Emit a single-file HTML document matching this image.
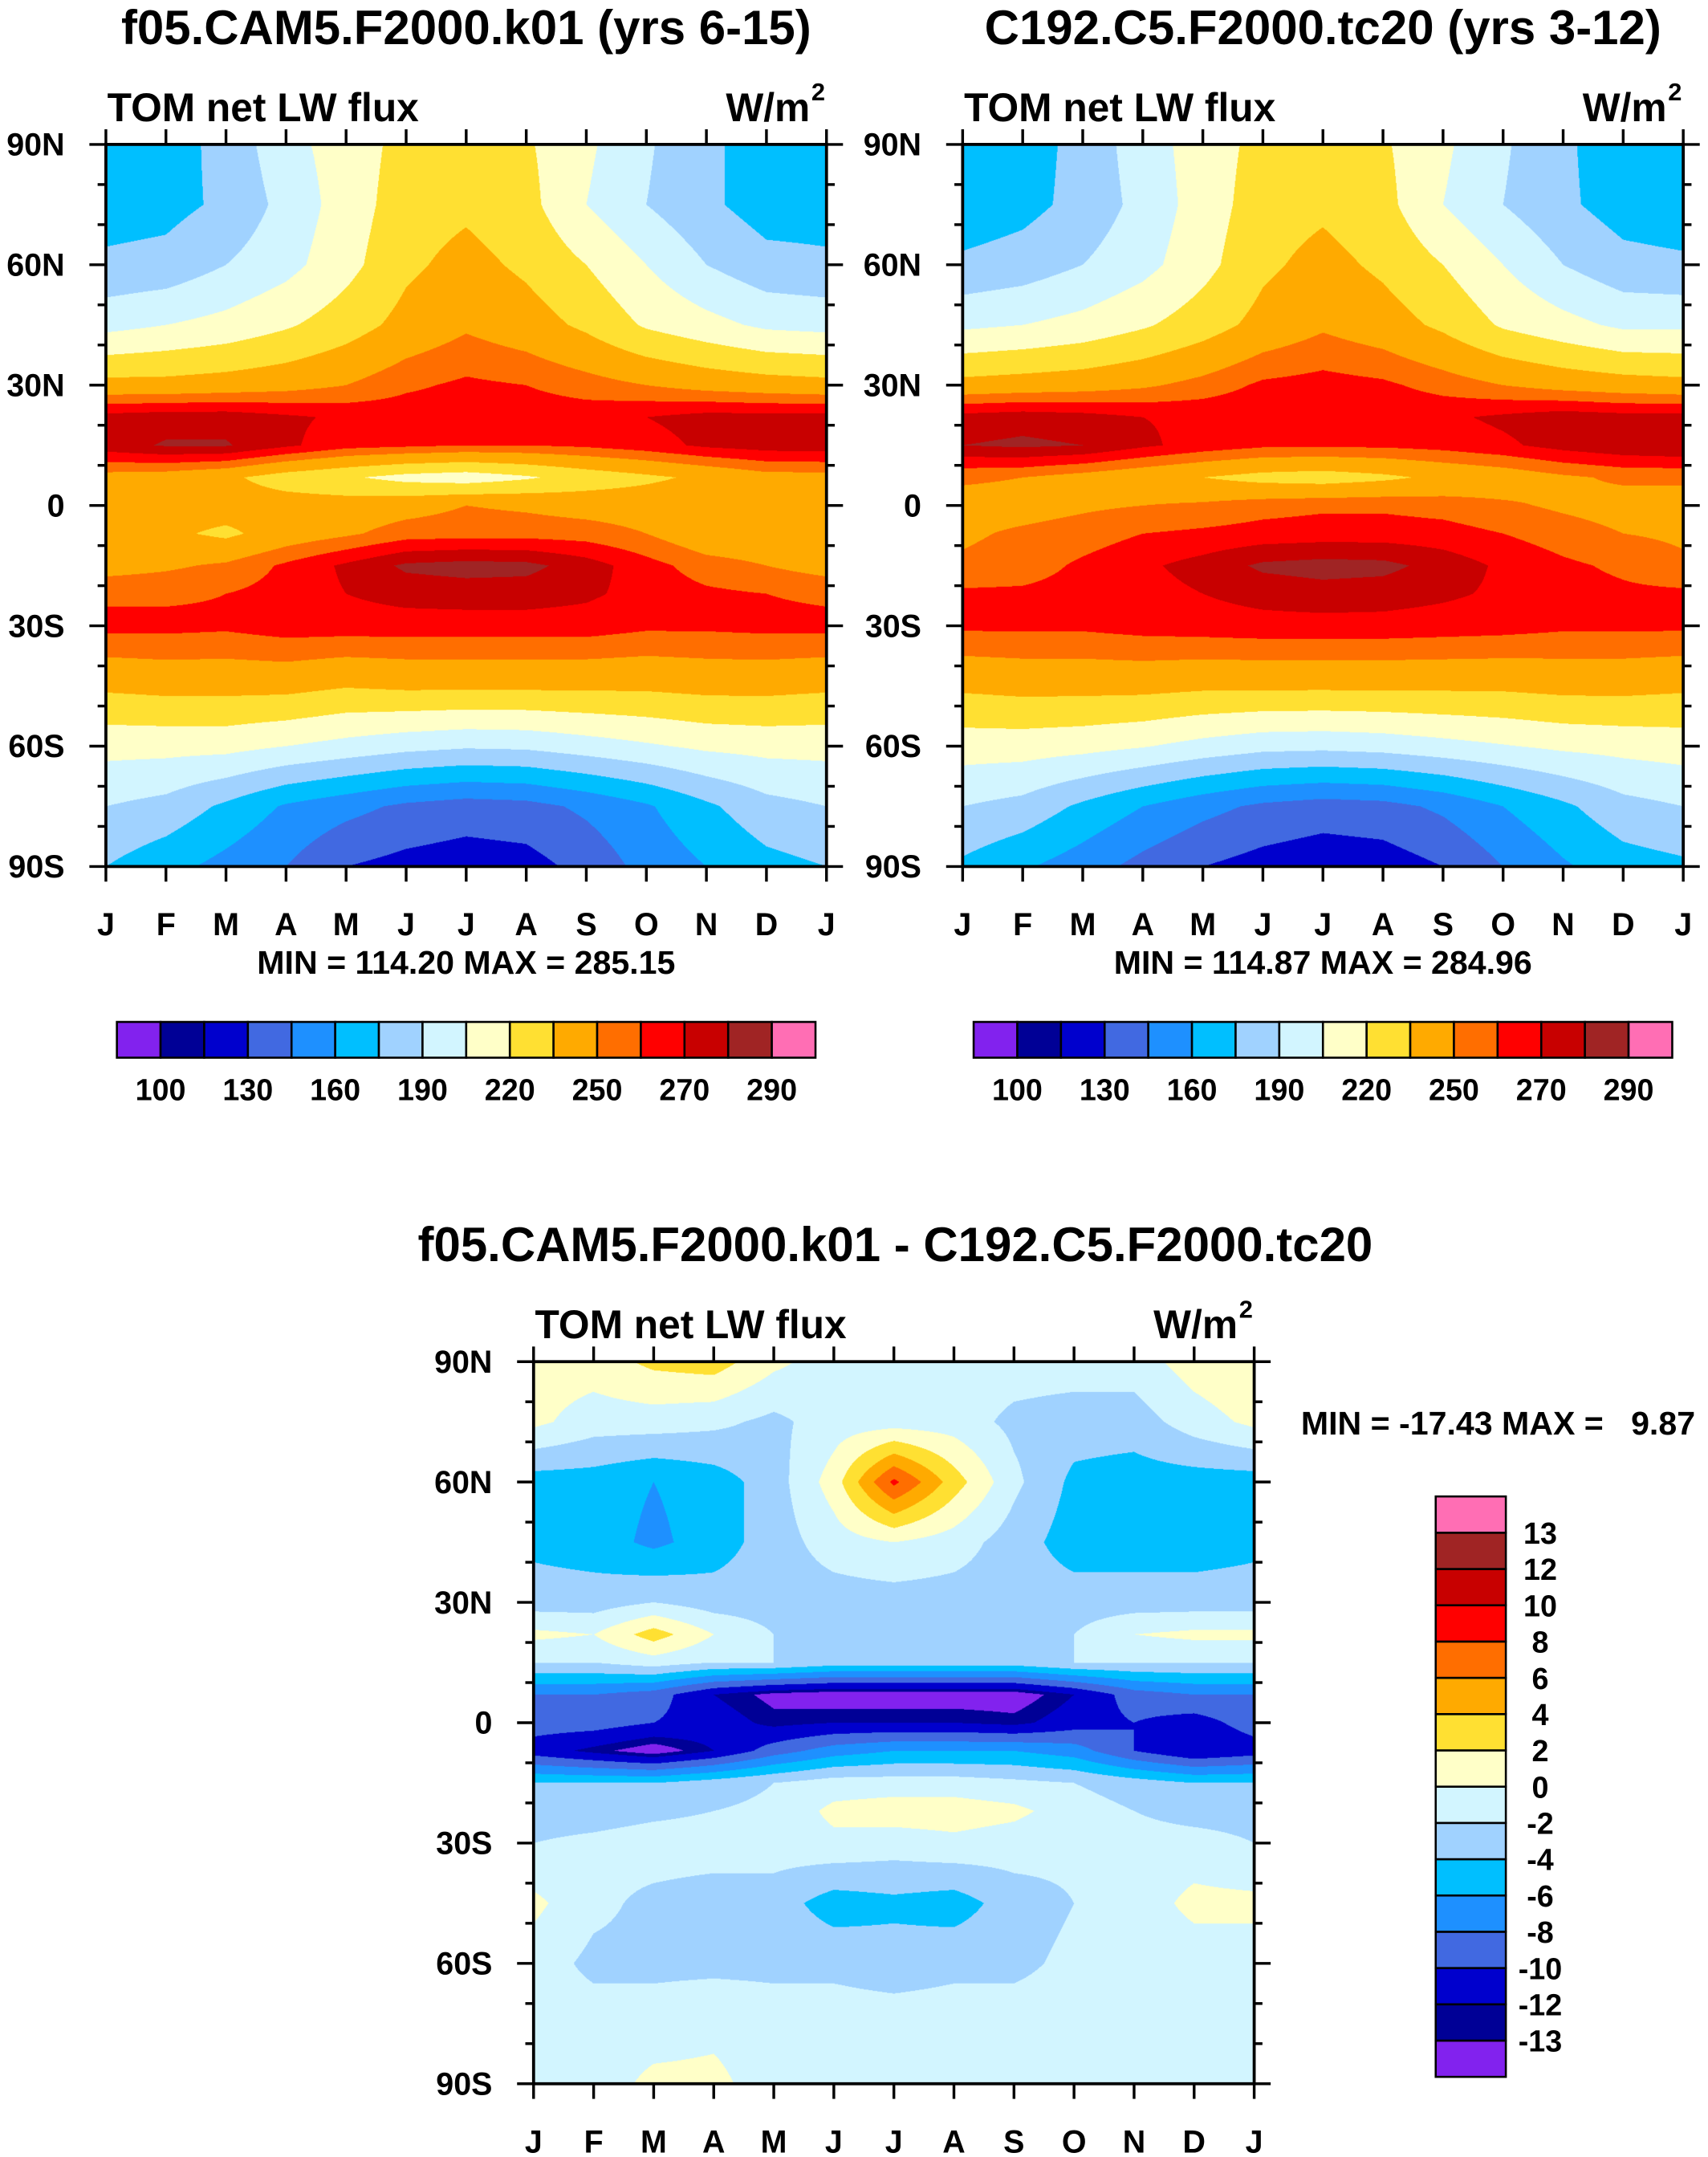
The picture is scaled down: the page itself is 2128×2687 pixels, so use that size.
<!DOCTYPE html>
<html><head><meta charset="utf-8">
<style>
html,body{margin:0;padding:0;background:#fff;}
#wrap{position:absolute;left:0;top:0;width:1242px;height:1568px;transform:scale(1.713365);transform-origin:0 0;font-family:"Liberation Sans",sans-serif;font-weight:bold;color:#000;}
canvas{position:absolute;}
svg{position:absolute;left:0;top:0;}
text{white-space:pre;}
</style></head><body>
<div id="wrap">
<canvas id="c1"></canvas>
<canvas id="c2"></canvas>
<canvas id="c3"></canvas>
<svg id="ov" width="1242" height="1568" viewBox="0 0 1242 1568"></svg>
</div>
<script>
// ---- data ----
const months = ["J","F","M","A","M","J","J","A","S","O","N","D","J"];
const latTicks = ["90N","60N","30N","0","30S","60S","90S"];
const lats = [90,75,60,45,30,22,15,7,0,-7,-15,-22,-30,-45,-60,-75,-90];
const levelsAbs = [100,115,130,145,160,175,190,205,220,235,250,260,270,280,290];
const absLabels = ["100","130","160","190","220","250","270","290"];
const levelsDiff = [-13,-12,-10,-8,-6,-4,-2,0,2,4,6,8,10,12,13];
const colors = ["#8222EE","#000096","#0000CD","#4169E1","#1E90FF","#00BFFF","#A0D2FF","#D2F5FF","#FFFFC8","#FFE032","#FFAA00","#FF6E00","#FF0000","#C80000","#A02424","#FF6EB4"];
const fieldA = [
 [165,168,180,200,212,225,228,222,208,192,178,168,165],
 [168,170,178,195,212,228,232,225,205,190,178,168,168],
 [178,180,190,200,215,232,240,232,220,205,190,180,178],
 [200,205,210,218,228,240,248,242,232,218,210,202,200],
 [240,240,242,245,250,258,262,260,255,250,245,242,240],
 [274,276,276,272,268,266,266,266,266,270,274,274,274],
 [276,281,281,272,264,262,260,260,262,266,272,275,276],
 [245,243,238,228,222,215,212,218,226,232,238,245,245],
 [242,242,242,242,242,245,250,248,245,244,245,242,242],
 [240,238,232,242,248,255,256,256,255,250,240,240,240],
 [245,248,252,262,272,282,284,283,275,264,255,250,245],
 [258,258,260,264,270,274,275,275,272,266,262,260,258],
 [263,263,262,265,265,265,265,265,265,262,262,263,263],
 [238,240,240,240,236,238,238,238,238,238,240,240,238],
 [210,210,210,205,200,195,192,193,198,203,208,210,210],
 [190,185,172,158,150,142,138,140,148,158,172,185,190],
 [175,165,155,145,130,125,122,124,135,150,160,170,175]];
const fieldB = [
 [160,168,180,198,212,225,228,222,208,192,178,165,160],
 [165,170,180,195,212,228,232,225,205,190,178,168,165],
 [178,182,190,200,215,232,240,232,220,205,190,180,178],
 [202,205,210,218,228,240,248,242,232,218,210,202,202],
 [240,242,244,248,254,262,264,262,256,250,245,242,240],
 [274,276,274,270,268,268,268,268,268,272,276,274,274],
 [280,282,280,272,266,262,262,262,264,268,274,278,280],
 [252,250,245,240,235,230,228,232,238,242,248,252,252],
 [245,245,248,250,252,256,258,258,256,252,248,245,245],
 [248,252,255,260,262,264,265,265,264,260,255,250,248],
 [252,255,262,268,274,282,284,283,276,268,262,258,252],
 [262,262,264,266,270,274,276,275,272,268,264,262,262],
 [262,262,262,264,265,266,266,266,265,264,262,262,262],
 [238,240,240,240,238,238,238,238,238,238,240,240,238],
 [212,212,210,206,200,195,194,196,200,204,208,210,212],
 [190,185,172,160,150,142,138,140,148,160,172,185,190],
 [172,162,152,140,130,124,120,122,130,145,158,168,172]];
const fieldD = [
 [1,1,2.5,3,0.5,-1,-1,-1,-1,-1,-1,1,2],
 [0.5,-1,-1,-1.5,-2.5,-1,-1,-1,-2.5,-3,-3,-1,0.5],
 [-5,-5,-6,-5,-3,1,8.5,3,-1.5,-4.5,-5,-5,-5],
 [-4.5,-5,-6.5,-5,-3,-1,0,-1,-3,-5,-5,-5,-4.5],
 [-3,-3,-2,-3,-3,-3,-3,-3,-3,-3,-3,-3,-3],
 [0.5,0,3,0,-2,-3,-2,-2,-2,-2,0,0.5,0.5],
 [-2,-2,-1,-2,-2,-3,-3,-3,-3,-2,-2,-2,-2],
 [-8,-8,-9,-12,-13.5,-14,-14,-14,-14,-12,-9,-8,-8],
 [-9,-9,-10,-11,-12.5,-12,-12,-12,-12.5,-11,-10,-11,-9],
 [-11,-12.5,-14,-12,-9,-7,-6,-6,-6,-7,-10,-12,-11],
 [-4,-4,-4,-3,-2,-1,-1,-1,-1.5,-2,-3,-4,-4],
 [-3,-3,-2.5,-2,-1.5,0.5,1,1,0.5,-1,-2,-3,-3],
 [-2,-1.5,-1,-1,-1,-0.5,-1,-0.5,-1,-1.5,-1,-1,-2],
 [0.5,-1.5,-2.5,-3,-3,-5,-4.5,-5,-3,-2,-1,0.5,0.5],
 [-1,-2.5,-2.5,-2.5,-2.5,-2.5,-3,-2.5,-2.5,-1.5,-1,-1,-1],
 [-1,-1,-1,-0.5,-1,-1,-1,-1,-1,-1,-1,-1,-1],
 [-1,-1,0.5,0.5,-1,-1,-1,-1,-1,-1,-1,-1,-1]];

const NS="http://www.w3.org/2000/svg";
const ov=document.getElementById('ov');
function mk(tag,attrs,txt){const e=document.createElementNS(NS,tag);for(const k in attrs)e.setAttribute(k,attrs[k]);if(txt!==undefined)e.textContent=txt;ov.appendChild(e);return e;}
function colorFor(v,lv){let i=0;while(i<lv.length&&v>=lv[i])i++;return colors[i];}
function sample(f,mx,lat){
  let j=0;while(j<lats.length-2&&lat<lats[j+1])j++;
  const t=(lats[j]-lat)/(lats[j]-lats[j+1]);
  let i=Math.min(11,Math.floor(mx));const s=mx-i;
  const a=f[j][i]*(1-s)+f[j][i+1]*s, b=f[j+1][i]*(1-s)+f[j+1][i+1]*s;
  return a*(1-t)+b*t;
}
function drawField(id,f,lv,x0,y0,w,h){
  const c=document.getElementById(id);const S=2;
  c.width=w*S;c.height=h*S;c.style.left=x0+'px';c.style.top=y0+'px';c.style.width=w+'px';c.style.height=h+'px';
  const ctx=c.getContext('2d');
  for(let py=0;py<h*S;py++){const lat=90-180*(py+0.5)/(h*S);
    for(let px=0;px<w*S;px++){const mx=12*(px+0.5)/(w*S);
      ctx.fillStyle=colorFor(sample(f,mx,lat),lv);ctx.fillRect(px,py,1,1);}}
}
function axes(pref,x0,y0,w,h){
  const g=mk('g',{});
  
  
  const add=(tag,a,t)=>{const e=mk(tag,a,t);g.appendChild(e);return e;};
  add('rect',{x:x0,y:y0,width:w,height:h,fill:'none',stroke:'#000','stroke-width':2.2});
  for(let i=0;i<=12;i++){const x=x0+w*i/12;
    add('line',{x1:x,x2:x,y1:y0,y2:y0-11,stroke:'#000','stroke-width':2});
    add('line',{x1:x,x2:x,y1:y0+h,y2:y0+h+11,stroke:'#000','stroke-width':2});
    const t=add('text',{x:x,y:y0+h+50,'text-anchor':'middle','font-size':23},months[i]);
    
    }
  for(let k=0;k<=18;k++){const y=y0+h*k/18;const maj=k%3===0;const L=maj?12:6;
    add('line',{x1:x0,x2:x0-L,y1:y,y2:y,stroke:'#000','stroke-width':2});
    add('line',{x1:x0+w,x2:x0+w+L,y1:y,y2:y,stroke:'#000','stroke-width':2});
    if(maj){const t=add('text',{x:x0-30,y:y+8,'text-anchor':'end','font-size':23},latTicks[k/3]);
      
      }}
  const s=add('text',{x:x0+1,y:y0-17,'font-size':29},'TOM net LW flux');
  
  
  const u=add('text',{x:x0+w-12,y:y0-17,'text-anchor':'end','font-size':29},'W/m');
  
  
  add('text',{x:x0+w-11,y:y0-32,'font-size':18},'2');
}
function txt(name,x,y,size,anchor,s){const t=mk('text',{x:x,y:y,'font-size':size,'text-anchor':anchor},s);
  
  return t;}
function hbar(pref,x0,y0,w,h){
  const n=colors.length,bw=w/n;
  for(let i=0;i<n;i++){const r=mk('rect',{x:x0+i*bw,y:y0,width:bw,height:h,fill:colors[i],stroke:'#000','stroke-width':1.5});
    
    }
  absLabels.forEach((l,k)=>{txt(pref+'-colorbar-label',x0+bw*(1+2*k),y0+h+31,22,'middle',l);});
}
drawField('c1',fieldA,levelsAbs,77,105,524,525);
drawField('c2',fieldB,levelsAbs,700,105,524,525);
drawField('c3',fieldD,levelsDiff,388,990,524,525);
axes('panel-1',77,105,524,525);
axes('panel-2',700,105,524,525);
axes('diff',388,990,524,525);
txt('panel-1-title',339,32,35,'middle','f05.CAM5.F2000.k01 (yrs 6-15)');
txt('panel-2-title',962,32,35,'middle','C192.C5.F2000.tc20 (yrs 3-12)');
txt('diff-title',651,917,35,'middle','f05.CAM5.F2000.k01 - C192.C5.F2000.tc20');
txt('panel-1-minmax',339,708,24,'middle','MIN = 114.20 MAX = 285.15');
txt('panel-2-minmax',962,708,24,'middle','MIN = 114.87 MAX = 284.96');
txt('diff-minmax',946,1043,24,'start','MIN = -17.43 MAX =   9.87');
hbar('panel-1',85,743,508,26);
hbar('panel-2',708,743,508,26);
(function(){const x0=1044,y0=1088,w=51,h=422,n=colors.length,bh=h/n;
  for(let i=0;i<n;i++){const r=mk('rect',{x:x0,y:y0+h-(i+1)*bh,width:w,height:bh,fill:colors[i],stroke:'#000','stroke-width':1.5});
    
    }
  levelsDiff.forEach((l,k)=>{txt('diff-colorbar-label',x0+w+25,y0+h-(k+1)*bh+8,22,'middle',String(l));});
})();
</script>
</body></html>
